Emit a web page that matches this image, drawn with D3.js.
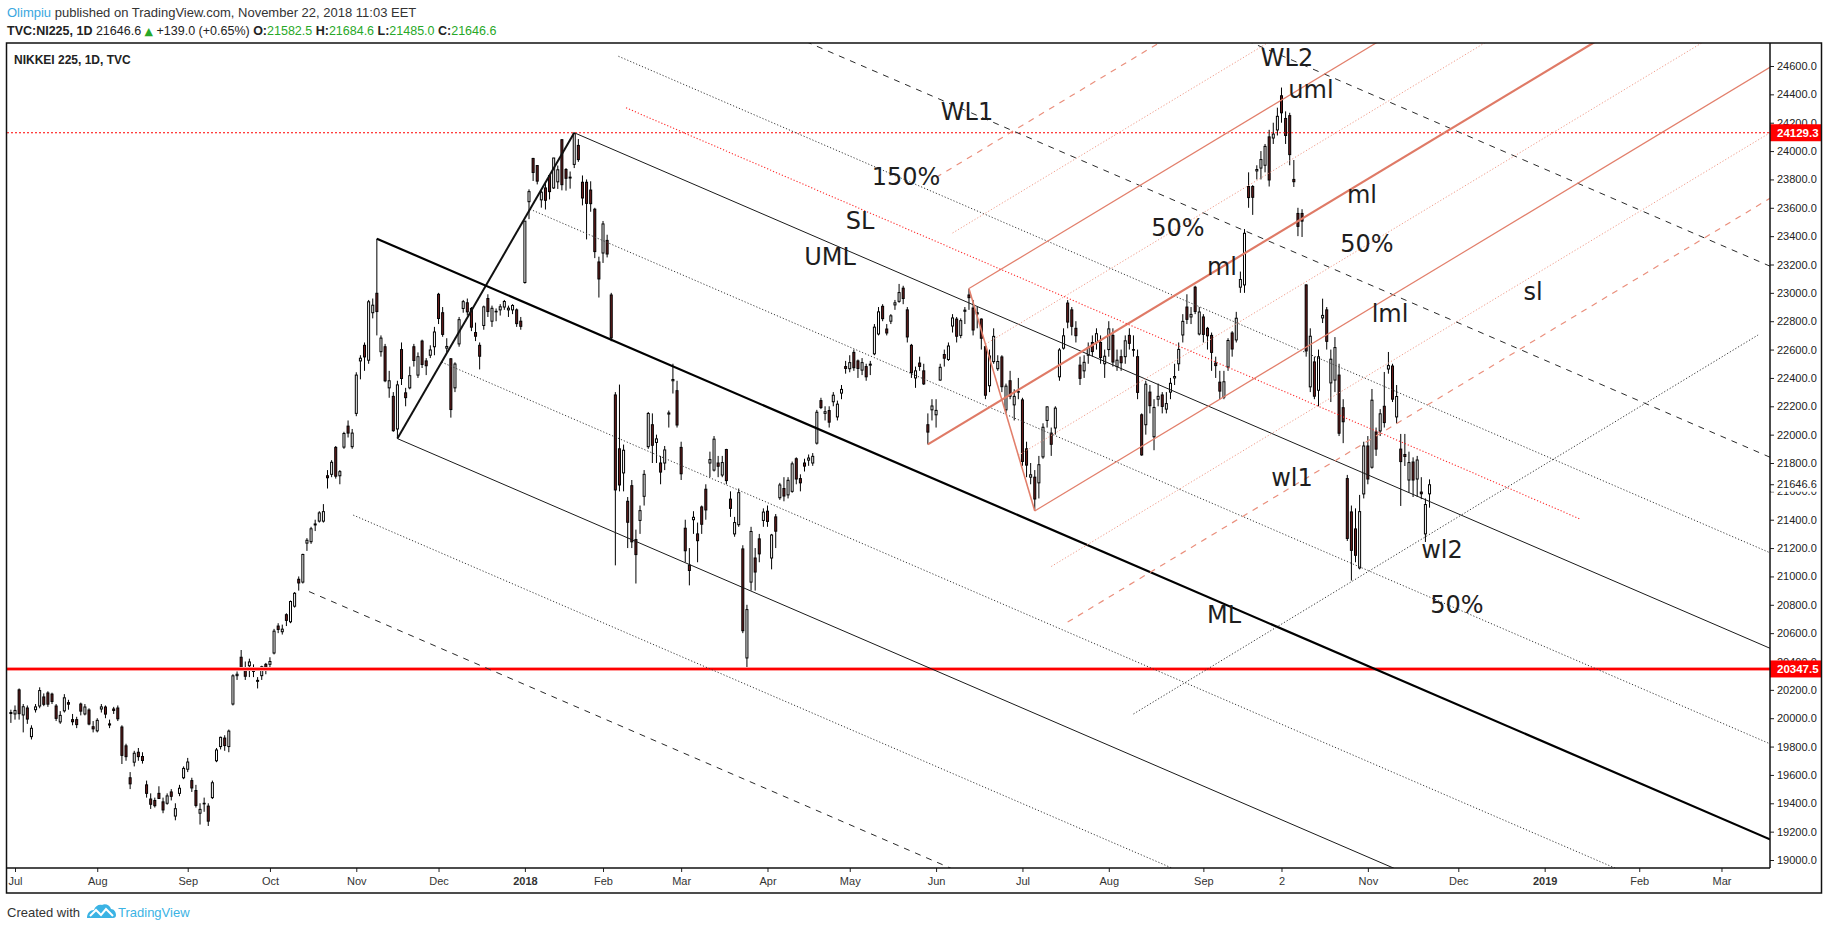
<!DOCTYPE html>
<html><head><meta charset="utf-8">
<script src="https://cdn.jsdelivr.net/npm/d3@7"></script>
<style>
html,body{margin:0;padding:0;background:#fff;}
svg{display:block;font-family:"Liberation Sans",Arial,sans-serif;}
</style></head><body>
<svg id="c" width="1828" height="930"></svg>
<script>
// ===== DATA: daily candles [open, high, low, close] per month =====
const m2017_06 = [[20040,20060,19967,20033]];
const m2017_07 = [[20030,20090,19990,20055],[20200,20210,19990,20032],[20023,20100,19900,20081],[20072,20090,19960,19994],[19870,19950,19850,19929],
[20060,20100,20040,20080],[20086,20218,20070,20195],[20150,20175,20085,20098],[20178,20190,20080,20099],[20170,20180,20100,20118],
[20086,20100,19980,19999],[19974,20050,19960,20020],[20052,20170,20040,20144],[20110,20130,20060,20099],[19990,20030,19950,19975],
[19990,20010,19930,19955],[20100,20110,20020,20050],[20030,20100,20020,20079],[20058,20070,19950,19959],[19940,19980,19900,19925]];
const m2017_08 = [[19911,20000,19900,19985],[20065,20100,20040,20080],[20079,20090,20000,20029],[19960,19990,19930,19952],[20065,20080,20030,20055],
[20072,20090,19980,19996],[19938,19950,19677,19738],[19805,19820,19700,19729],[19580,19620,19500,19537],[19690,19770,19660,19753],
[19760,19790,19700,19729],[19730,19760,19680,19702],[19530,19560,19440,19470],[19430,19470,19360,19393],[19420,19440,19370,19383],
[19470,19520,19430,19434],[19410,19440,19330,19353],[19400,19470,19390,19452],[19480,19500,19420,19449],[19310,19400,19280,19362],
[19470,19530,19450,19506],[19580,19660,19570,19646]];
const m2017_09 = [[19640,19720,19620,19691],[19560,19580,19480,19508],[19490,19530,19370,19385],[19330,19400,19250,19357],[19400,19440,19340,19396],
[19380,19400,19240,19274],[19440,19560,19430,19545],[19700,19790,19690,19776],[19800,19870,19780,19865],[19860,19880,19770,19807],
[19800,19920,19760,19909],[20100,20310,20090,20299],[20300,20330,20270,20310],[20430,20481,20340,20347],[20350,20400,20270,20296],
[20370,20420,20290,20397],[20350,20380,20290,20330],[20260,20290,20210,20267],[20300,20370,20270,20363],[20380,20390,20310,20356]];
const m2017_10 = [[20380,20430,20350,20400],[20460,20630,20450,20614],[20650,20670,20600,20626],[20610,20660,20590,20628],[20730,20740,20650,20690],
[20680,20830,20670,20823],[20790,20890,20780,20881],[20980,21000,20900,20954],[20960,21160,20950,21155],[21235,21270,21180,21255],
[21245,21350,21230,21336],[21370,21400,21320,21363],[21390,21460,21380,21448],[21390,21510,21380,21457],[21710,21750,21620,21696],
[21720,21820,21700,21805],[21910,21920,21690,21707],[21710,21750,21650,21739],[21912,22020,21900,22008],[22060,22100,21980,22011],
[21915,22040,21900,22011]];
const m2017_11 = [[22150,22440,22130,22420],[22520,22560,22390,22539],[22630,22650,22450,22548],[22525,22950,22500,22937],[22860,22960,22820,22913],
[22997,23382,22700,22868],[22585,22700,22550,22681],[22620,22640,22370,22380],[22330,22450,22260,22380],[22270,22300,22020,22028],
[22040,22380,21972,22351],[22600,22650,22350,22396],[22295,22330,22200,22261],[22330,22480,22320,22416],[22620,22640,22480,22523],
[22420,22580,22400,22550],[22660,22670,22470,22495],[22520,22540,22420,22486],[22560,22630,22540,22597],[22620,22760,22560,22724]];
const m2017_12 = [[22990,23000,22780,22819],[22860,22900,22690,22707],[22610,22680,22580,22622],[22535,22540,22120,22177],[22330,22510,22300,22498],
[22640,22830,22620,22811],[22890,22950,22860,22938],[22930,22960,22840,22866],[22890,22900,22730,22758],[22720,22790,22660,22694],
[22630,22650,22460,22553],[22770,22910,22740,22901],[22960,22990,22830,22868],[22800,22910,22760,22891],[22870,22890,22800,22866],
[22880,22920,22840,22902],[22900,22950,22880,22939],[22880,22910,22830,22892],[22880,22920,22850,22911],[22880,22890,22760,22783],
[22800,22830,22740,22764]];
const m2018_01 = [[23073,23506,23065,23506],[23643,23730,23520,23714],[23948,23952,23789,23849],[23898,23900,23765,23788],[23656,23734,23601,23710],
[23740,23780,23588,23653],[23827,23833,23659,23714],[23740,23952,23733,23951],[23783,23898,23733,23868],[24080,24084,23723,23763],
[23870,23880,23721,23808],[23810,23856,23735,23816],[23906,24129.3,23880,24124],[24040,24085,23924,23940],[23780,23828,23617,23669],
[23780,23800,23377,23631],[23725,23787,23572,23629],[23590,23600,23245,23291],[23218,23255,22967,23098]];
const m2018_02 = [[23281,23507,23211,23486],[23370,23410,23250,23274],[22985,23000,22659,22682],[22280,22300,21078,21610],[21900,22353,21600,21645],
[21730,21930,21600,21890],[21530,21560,21200,21382],[21640,21680,21200,21244],[21260,21330,20950,21154],[21395,21500,21300,21464],
[21565,21750,21500,21720],[21915,22160,21900,22149],[22070,22150,21800,21925],[21945,22000,21800,21970],[21800,21850,21650,21736],
[21800,21920,21750,21892],[22145,22170,22050,22153],[22380,22500,22290,22389],[22310,22380,22050,22068]];
const m2018_03 = [[21910,21950,21680,21724],[21340,21400,21100,21181],[21080,21200,20937,21042],[21400,21460,21300,21417],[21300,21380,21100,21252],
[21490,21500,21300,21368],[21615,21650,21400,21469],[21800,21880,21700,21824],[21750,21990,21740,21968],[21800,21850,21700,21777],
[21715,21850,21700,21803],[21895,21900,21650,21676],[21545,21600,21420,21480],[21300,21420,21280,21380],[21365,21620,21350,21591],
[21194,21220,20600,20617],[20425,20800,20347.5,20766],[20960,21350,20900,21317],[21130,21200,20900,21031],[21265,21300,21100,21159],
[21395,21480,21350,21454]];
const m2018_04 = [[21460,21500,21350,21388],[21130,21300,21050,21292],[21420,21440,21200,21319],[21555,21660,21540,21645],[21620,21700,21530,21567],
[21575,21700,21550,21678],[21600,21810,21590,21794],[21830,21840,21650,21687],[21690,21720,21600,21660],[21800,21830,21740,21778],
[21820,21860,21780,21835],[21800,21870,21780,21847],[21940,22175,21930,22158],[22240,22260,22180,22191],[22150,22200,22100,22162],
[22170,22200,22050,22088],[22232,22300,22200,22278],[22125,22240,22100,22215],[22293,22350,22250,22319],[22480,22520,22430,22467]];
const m2018_05 = [[22465,22560,22440,22508],[22580,22600,22450,22472],[22520,22530,22400,22467],[22455,22540,22420,22508],[22480,22500,22380,22408],
[22490,22520,22420,22497],[22570,22780,22560,22758],[22710,22900,22700,22866],[22905,22920,22800,22818],[22745,22780,22700,22717],
[22800,22850,22780,22838],[22915,22950,22880,22930],[22940,23063,22930,23002],[23033,23050,22920,22960],[22880,22900,22650,22689],
[22630,22640,22400,22437],[22400,22480,22330,22450],[22505,22550,22450,22481],[22450,22500,22350,22358],[22070,22150,21931,22018],
[22175,22250,22100,22202]];
const m2018_06 = [[22140,22250,22050,22171],[22385,22500,22380,22475],[22565,22600,22480,22539],[22530,22650,22520,22625],[22766,22850,22720,22823],
[22815,22830,22650,22694],[22700,22820,22680,22804],[22870,22900,22780,22878],[22985,23030,22880,22966],[22893,22950,22700,22738],
[22860,22900,22750,22851],[22815,22820,22600,22680],[22620,22630,22250,22278],[22345,22600,22300,22555],[22515,22750,22500,22693],
[22465,22560,22450,22516],[22548,22560,22300,22338],[22175,22360,22150,22342],[22380,22450,22250,22271],[22210,22320,22100,22270],
[22300,22400,22250,22304]];
const m2018_07 = [[22245,22260,21780,21811],[21900,21950,21700,21785],[21700,21800,21650,21717],[21700,21750,21462,21546],[21660,21850,21550,21788],
[21843,22080,21830,22052],[22100,22200,22050,22196],[22011,22050,21850,21932],[22047,22200,22000,22187],[22408,22610,22380,22597],
[22610,22750,22600,22697],[22928,22949,22750,22794],[22880,22900,22700,22764],[22750,22800,22650,22698],[22490,22550,22350,22397],
[22450,22560,22400,22510],[22560,22650,22500,22614],[22650,22700,22550,22586],[22650,22750,22600,22712],[22650,22700,22500,22544],
[22500,22600,22400,22553]];
const m2018_08 = [[22600,22800,22550,22746],[22700,22750,22480,22512],[22480,22600,22450,22525],[22550,22600,22450,22507],[22550,22700,22500,22662],
[22700,22750,22600,22644],[22600,22700,22550,22598],[22550,22600,22250,22298],[22140,22150,21851,21857],[22070,22380,22000,22356],
[22300,22350,22150,22204],[21985,22250,21890,22192],[22250,22360,22200,22270],[22280,22300,22150,22199],[22180,22300,22150,22219],
[22300,22400,22250,22362],[22400,22500,22350,22410],[22500,22650,22450,22601],[22703,22850,22650,22799],[22900,22990,22780,22813],
[22830,22900,22780,22848],[23040,23050,22850,22869],[22710,22900,22700,22865]];
const m2018_09 = [[22830,22850,22650,22707],[22750,22760,22600,22697],[22700,22720,22450,22580],[22505,22550,22400,22487],[22370,22450,22250,22307],
[22265,22450,22250,22373],[22477,22680,22450,22664],[22717,22730,22550,22604],[22668,22866,22650,22821],[23040,23150,23000,23094],
[23056,23450,23000,23420],[23750,23850,23600,23672],[23750,23760,23550,23674],[23860,23900,23800,23870],[23880,24000,23800,23940],
[23900,24050,23850,24033],[24100,24150,23750,23796],[24092,24200,24050,24120]];
const m2018_10 = [[24149,24306,24110,24245],[24390,24448,24200,24270],[24230,24280,24050,24110],[24250,24270,23900,23975],[23800,23937,23747,23784],
[23560,23600,23400,23469],[23560,23590,23394,23506],[23056,23060,22550,22590],[22337,22750,22300,22694],[22513,22550,22250,22271],
[22313,22600,22200,22549],[22823,22959,22787,22841],[22880,22900,22600,22658],[22365,22600,22230,22532],[22385,22688,22300,22614],
[22420,22500,21990,22010],[22190,22250,21940,22091],[21690,21716,21250,21268],[21455,21500,20971,21184],[21335,21480,21100,21149],
[21060,21575,21050,21457],[21582,21950,21550,21920]];
const m2018_11 = [[21920,21990,21650,21687],[21770,22322,21760,22243],[22019,22050,21850,21898],[22026,22180,21990,22147],[22200,22442,22050,22085],
[22463,22583,22430,22487],[22484,22500,22230,22250],[22125,22350,22080,22269],[21898,22005,21497,21810],[21860,22005,21779,21846],
[21680,21880,21590,21803],[21807,21840,21560,21680],[21687,21850,21560,21821],[21595,21700,21545,21583],[21300,21550,21243,21507],
[21582.5,21684.6,21485,21646.6]];
const monthsData = [m2017_06,m2017_07,m2017_08,m2017_09,m2017_10,m2017_11,m2017_12,m2018_01,m2018_02,m2018_03,m2018_04,
  m2018_05,m2018_06,m2018_07,m2018_08,m2018_09,m2018_10,m2018_11];
const firstBarIndex = -1;

// x-axis tick labels and their bar index
const tickLabels = ["Jul","Aug","Sep","Oct","Nov","Dec","2018","Feb","Mar","Apr","May","Jun","Jul","Aug","Sep","2","Nov","Dec","2019","Feb","Mar"];
const tickIndex  = [0,20,42,62,83,103,124,143,162,183,203,224,245,266,289,308,329,351,372,395,415];
const tickBold   = ["2018","2019"];
// price axis ticks
const priceTicks = d3.range(19000, 24601, 200);
const redLevels = [24129.3, 20347.5];
const lastPrice = 21646.6;

// pitchfork pivots {i: bar index, p: price}
const forkBlack = {A:{i:88,p:23382}, B:{i:93,p:21972}, C:{i:136,p:24129.3}};
const forkOrange = {A:{i:222,p:21931}, B:{i:232,p:23030}, C:{i:248,p:21462}};
const blackLevels = [{k:0.5,s:1,st:"dot"},{k:0.5,s:-1,st:"dot"},{k:1,s:1,st:"solid"},{k:1,s:-1,st:"solid"},
  {k:1.5,s:1,st:"dot"},{k:1.5,s:-1,st:"dot"},{k:2,s:1,st:"dash"},{k:2,s:-1,st:"dash"},{k:3,s:1,st:"dash"}];
const orangeLevels = [{k:0.5,s:1,st:"dot"},{k:0.5,s:-1,st:"dot"},{k:1,s:1,st:"solid"},{k:1,s:-1,st:"solid"},
  {k:1.5,s:1,st:"dot"},{k:1.5,s:-1,st:"dot"},{k:2,s:1,st:"dash"},{k:2,s:-1,st:"dash"}];
// hand-drawn trend lines
const slLine = [{i:148.6,p:24305},{i:380.6,p:21405}];
const risingLine = [{i:272,p:20030},{i:423.9,p:22703}];
// text annotations
const notes = [
 {t:"WL2",x:1287,y:57},{t:"uml",x:1311,y:89},{t:"WL1",x:967,y:111},{t:"150%",x:906,y:176},
 {t:"SL",x:860,y:220},{t:"UML",x:830,y:256},{t:"50%",x:1178,y:227},{t:"ml",x:1362,y:194},
 {t:"50%",x:1367,y:243},{t:"ml",x:1222,y:266},{t:"lml",x:1390,y:313},{t:"sl",x:1533,y:291},
 {t:"wl1",x:1292,y:477},{t:"wl2",x:1442,y:549},{t:"50%",x:1457,y:604},{t:"ML",x:1224,y:614}];

// ===== BUILD =====
const candles = [];
let bi = firstBarIndex;
monthsData.forEach(m => m.forEach(r => { candles.push({i:bi, o:r[0], h:r[1], l:r[2], c:r[3]}); bi++; }));

const svg = d3.select('#c');
const PL=7, PR=1770, PT=43, PB=868;
const x = d3.scaleLinear().domain([0,344]).range([15, 15+344*4.112]);
const y = d3.scaleLinear().domain([19000,24600]).range([860,66]);

svg.append('rect').attr('width',1828).attr('height',930).attr('fill','#fff');
svg.append('defs').append('clipPath').attr('id','plot').append('rect')
  .attr('x',PL).attr('y',PT).attr('width',PR-PL).attr('height',PB-PT);

// header
const h1 = svg.append('text').attr('x',7).attr('y',17).attr('font-size',13).attr('fill','#333');
h1.append('tspan').attr('fill','#3aa7e0').text('Olimpiu');
h1.append('tspan').text(' published on TradingView.com, November 22, 2018 11:03 EET');
const h2 = svg.append('text').attr('x',7).attr('y',35).attr('font-size',12.5).attr('fill','#222');
const G='#27a827';
[['TVC:NI225, 1D ','bold','#222'],[' 21646.6 ','normal','#222'],['▲','normal',G],[' +139.0 (+0.65%) ','normal','#222'],
 ['O:','bold','#222'],['21582.5','normal',G],[' H:','bold','#222'],['21684.6','normal',G],[' L:','bold','#222'],['21485.0','normal',G],
 [' C:','bold','#222'],['21646.6','normal',G]].forEach(s=>{
  const t=h2.append('tspan').attr('font-weight',s[1]).attr('fill',s[2]).text(s[0]);
  if(s[0]==='▲') t.attr('font-family','DejaVu Sans').attr('font-size',11);
});

// plot content
const g = svg.append('g').attr('clip-path','url(#plot)');

// candles
const cg = g.append('g');
cg.selectAll('line').data(candles).join('line')
  .attr('x1',d=>x(d.i)).attr('x2',d=>x(d.i)).attr('y1',d=>y(d.h)).attr('y2',d=>y(d.l))
  .attr('stroke','#000').attr('stroke-width',1);
cg.selectAll('rect').data(candles).join('rect')
  .attr('x',d=>x(d.i)-1).attr('width',2)
  .attr('y',d=>y(Math.max(d.o,d.c)))
  .attr('height',d=>Math.max(0.6, y(Math.min(d.o,d.c))-y(Math.max(d.o,d.c))))
  .attr('fill',d=>d.c>=d.o?'#fff':'#6b1d1d').attr('stroke','#000').attr('stroke-width',1);

// horizontal levels
g.append('line').attr('x1',PL).attr('x2',PR).attr('y1',y(redLevels[0])).attr('y2',y(redLevels[0]))
  .attr('stroke','#ff0000').attr('stroke-width',1.2).attr('stroke-dasharray','2,2');
g.append('line').attr('x1',PL).attr('x2',PR).attr('y1',y(redLevels[1])).attr('y2',y(redLevels[1]))
  .attr('stroke','#ff9a9a').attr('stroke-width',4);
g.append('line').attr('x1',PL).attr('x2',PR).attr('y1',y(redLevels[1])).attr('y2',y(redLevels[1]))
  .attr('stroke','#ff0000').attr('stroke-width',2);

const END = 445;
function seg(a,b,stroke,w,dash){
  const l = g.append('line').attr('x1',x(a.i)).attr('y1',y(a.p)).attr('x2',x(b.i)).attr('y2',y(b.p))
    .attr('stroke',stroke).attr('stroke-width',w).attr('fill','none');
  if(dash) l.attr('stroke-dasharray',dash);
  return l;
}
function drawFork(f, levels, col){
  const M = {i:(f.B.i+f.C.i)/2, p:(f.B.p+f.C.p)/2};
  const s = (M.p-f.A.p)/(M.i-f.A.i);
  const ext = P => ({i:END, p:P.p + s*(END-P.i)});
  levels.forEach(L=>{
    const P = {i:M.i + L.k*L.s*(f.C.i-M.i), p:M.p + L.k*L.s*(f.C.p-M.p)};
    const st = col[L.st];
    seg(P, ext(P), st.c, st.w, st.d);
  });
  seg(f.B, f.C, col.base.c, col.base.w, null);
  seg(f.A, ext(f.A), col.median.c, col.median.w, null);
}
drawFork(forkBlack, blackLevels, {
  dot:{c:'#3a3a3a',w:1,d:'1.2,2'}, solid:{c:'#1a1a1a',w:1,d:null}, dash:{c:'#2a2a2a',w:1,d:'6,6'},
  base:{c:'#111',w:2}, median:{c:'#000',w:2.2}});
drawFork(forkOrange, orangeLevels, {
  dot:{c:'#f09a88',w:1,d:'1.2,2'}, solid:{c:'#e27f6b',w:1.2,d:null}, dash:{c:'#ea8f7c',w:1.2,d:'6,6'},
  base:{c:'#e27f6b',w:1.6}, median:{c:'#df7a66',w:2.2}});
seg(slLine[0], slLine[1], '#ff2a2a', 1.1, '1.2,2');
seg(risingLine[0], risingLine[1], '#333', 1, '1.2,2');

// annotations
svg.append('g').selectAll('text').data(notes).join('text')
  .attr('x',d=>d.x).attr('y',d=>d.y+8.7).attr('text-anchor','middle')
  .attr('font-family','"DejaVu Sans",Verdana,sans-serif').attr('font-size',24).attr('fill','#1e1e1e')
  .text(d=>d.t);

// title
svg.append('text').attr('x',14).attr('y',64).attr('font-size',12).attr('font-weight','bold').attr('fill','#222')
  .text('NIKKEI 225, 1D, TVC');

// price axis
const ya = svg.append('g').attr('transform',`translate(${PR},0)`)
  .call(d3.axisRight(y).tickValues(priceTicks).tickFormat(d=>d.toFixed(1)).tickSize(4).tickPadding(3));
ya.select('.domain').remove();
ya.selectAll('text').attr('font-size',11).attr('fill','#222').attr('font-family','"Liberation Sans",Arial,sans-serif');
ya.selectAll('line').attr('stroke','#222');

// x axis
const xa = svg.append('g').attr('transform',`translate(0,${PB})`)
  .call(d3.axisBottom(x).tickValues(tickIndex).tickFormat((d,i)=>tickLabels[i]).tickSize(4).tickPadding(5));
xa.select('.domain').remove();
xa.selectAll('text').attr('font-size',11).attr('fill','#333').attr('font-family','"Liberation Sans",Arial,sans-serif')
  .attr('font-weight',(d,i)=>tickBold.includes(tickLabels[i])?'bold':'normal');
xa.selectAll('line').attr('stroke','#222');

// last price marker
const lp = svg.append('g');
lp.append('rect').attr('x',PR+1).attr('y',y(lastPrice)-7).attr('width',50).attr('height',14).attr('fill','#fff');
lp.append('line').attr('x1',PR).attr('x2',PR+4).attr('y1',y(lastPrice)).attr('y2',y(lastPrice)).attr('stroke','#222');
lp.append('text').attr('x',PR+7).attr('y',y(lastPrice)).attr('dy','0.32em').attr('font-size',11).attr('fill','#222').text(lastPrice.toFixed(1));

// red level labels
redLevels.forEach(v=>{
  const gg = svg.append('g');
  gg.append('rect').attr('x',PR).attr('y',y(v)-8.5).attr('width',52).attr('height',17).attr('fill','#ff0000');
  gg.append('text').attr('x',PR+7).attr('y',y(v)).attr('dy','0.34em').attr('font-size',11.5).attr('font-weight','bold')
    .attr('fill','#fff').text(v.toFixed(1));
});

// frames
svg.append('rect').attr('x',6.5).attr('y',43).attr('width',1815).attr('height',850).attr('fill','none').attr('stroke','#111').attr('stroke-width',1.5);
svg.append('line').attr('x1',PR).attr('x2',PR).attr('y1',43).attr('y2',PB).attr('stroke','#111').attr('stroke-width',1.5);
svg.append('line').attr('x1',6.5).attr('x2',PR).attr('y1',PB).attr('y2',PB).attr('stroke','#111').attr('stroke-width',1.5);

// footer
svg.append('text').attr('x',7).attr('y',917).attr('font-size',13).attr('fill','#333').text('Created with');
const logo = svg.append('g').attr('transform','translate(87,904)');
logo.append('path').attr('d','M0,14 C0,9 3,6 7,6 C8,2 12,0 15,1 C18,-1 23,1 24,5 C27,5 29,8 29,11 C29,13 28,14 26,14 Z').attr('fill','#3bb3e4');
logo.append('path').attr('d','M3,12 L9,6 L14,11 L19,5 L26,12').attr('fill','none').attr('stroke','#fff').attr('stroke-width',2);
svg.append('text').attr('x',118).attr('y',917).attr('font-size',13).attr('fill','#3bb3e4').text('TradingView');
</script></body></html>
